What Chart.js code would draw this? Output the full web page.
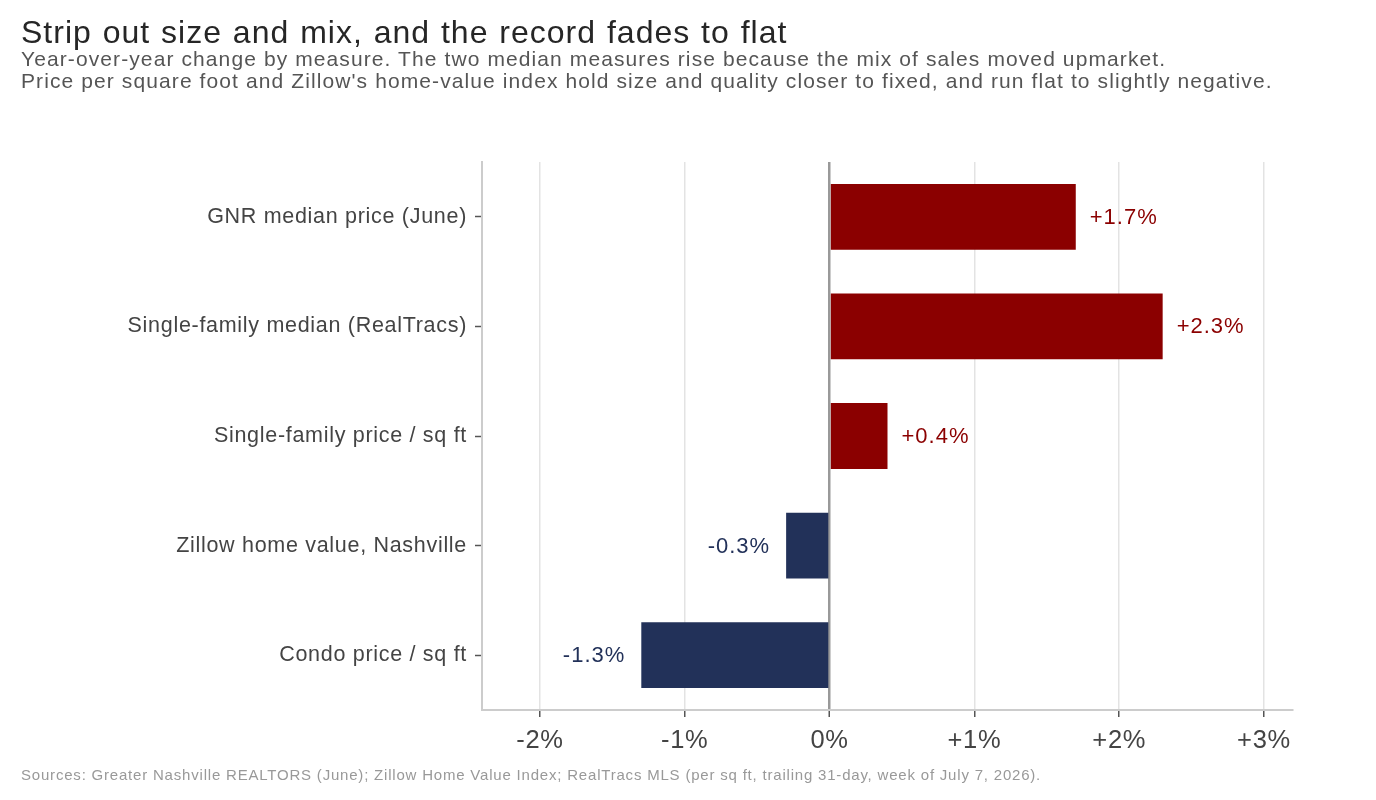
<!DOCTYPE html>
<html>
<head>
<meta charset="utf-8">
<script src="https://cdn.jsdelivr.net/npm/chart.js@4"></script>
<style>
  html, body { margin: 0; padding: 0; background: #fff; }
  body { width: 1376px; height: 800px; position: relative; overflow: hidden; font-family: "Liberation Sans", Arial, sans-serif; }
  #wrap { position: absolute; left: 0; top: 0; width: 1376px; height: 800px; }
  .title { position: absolute; left: 21px; top: 14px; font-size: 32px; letter-spacing: 1px; word-spacing: 1px; color: #262626; white-space: nowrap; }
  .sub { position: absolute; left: 21px; top: 48px; font-size: 21px; line-height: 22px; letter-spacing: 1.1px; color: #555; white-space: nowrap; }
  .foot { position: absolute; left: 21px; top: 766px; font-size: 15px; letter-spacing: 0.8px; color: #999; white-space: nowrap; }
</style>
</head>
<body>
<div id="wrap"><canvas id="chart" width="1376" height="800"></canvas></div>
<div class="title">Strip out size and mix, and the record fades to flat</div>
<div class="sub">Year-over-year change by measure. The two median measures rise because the mix of sales moved upmarket.<br>Price per square foot and Zillow's home-value index hold size and quality closer to fixed, and run flat to slightly negative.</div>
<div class="foot">Sources: Greater Nashville REALTORS (June); Zillow Home Value Index; RealTracs MLS (per sq ft, trailing 31-day, week of July 7, 2026).</div>
<script>
// ── data ──
const measures = ['GNR median price (June)', 'Single-family median (RealTracs)', 'Single-family price / sq ft', 'Zillow home value, Nashville', 'Condo price / sq ft'];
const changes = [1.7, 2.3, 0.4, -0.3, -1.3];
const xTicks = [-2, -1, 0, 1, 2, 3];

const UP = '#8b0000', DOWN = '#223159';
const FONT = '"Liberation Sans", Arial, sans-serif';
const fmt = v => (v > 0 ? '+' : '') + v.toFixed(1) + '%';
const tickFmt = v => (v > 0 ? '+' : '') + v + '%';

// slightly looser tracking for the axis labels
const tracking = {
    id: 'tracking',
    beforeDraw(chart) { chart.ctx.letterSpacing = '0.7px'; },
    afterDraw(chart) { chart.ctx.letterSpacing = '0px'; }
};

// value labels at bar ends
const barLabels = {
    id: 'barLabels',
    afterDatasetsDraw(chart) {
        const ctx = chart.ctx;
        const meta = chart.getDatasetMeta(0);
        ctx.save();
        ctx.font = '22px ' + FONT;
        ctx.letterSpacing = '1px';
        ctx.textBaseline = 'middle';
        meta.data.forEach((bar, i) => {
            const v = changes[i];
            ctx.fillStyle = v >= 0 ? UP : DOWN;
            ctx.textAlign = v >= 0 ? 'left' : 'right';
            ctx.fillText(fmt(v), bar.x + (v >= 0 ? 14 : -16), bar.y + 1);
        });
        ctx.restore();
    }
};

new Chart(document.getElementById('chart'), {
    type: 'bar',
    data: {
        labels: measures,
        datasets: [{
            data: changes,
            backgroundColor: changes.map(v => v >= 0 ? UP : DOWN),
            borderWidth: 0,
            categoryPercentage: 1, barPercentage: 0.6
        }]
    },
    options: {
        indexAxis: 'y', responsive: false, animation: false,
        layout: {padding: {top: 162, right: 83, left: 0, bottom: 0}},
        plugins: {legend: {display: false}, tooltip: {enabled: false}},
        scales: {
            x: {
                min: -2.4, max: 3.2,
                afterBuildTicks: s => { s.ticks = xTicks.map(v => ({value: v})); },
                afterFit: s => { s.height = 90; },
                border: {color: '#cccccc', width: 2},
                grid: {
                    color: c => c.tick && c.tick.value === 0 ? '#999999' : '#e3e3e3',
                    lineWidth: c => c.tick && c.tick.value === 0 ? 2.5 : 1.5,
                    tickColor: '#555', tickLength: 7, tickWidth: 1.5
                },
                ticks: {color: '#444', font: {family: FONT, size: 25.5}, padding: 9, callback: tickFmt}
            },
            y: {
                afterFit: s => { s.width = 482; },
                border: {color: '#cccccc', width: 2},
                grid: {drawOnChartArea: false, offset: false, tickColor: '#555', tickLength: 7, tickWidth: 1.5},
                ticks: {color: '#444', font: {family: FONT, size: 21.5}, padding: 8}
            }
        }
    },
    plugins: [tracking, barLabels]
});
</script>
</body>
</html>
